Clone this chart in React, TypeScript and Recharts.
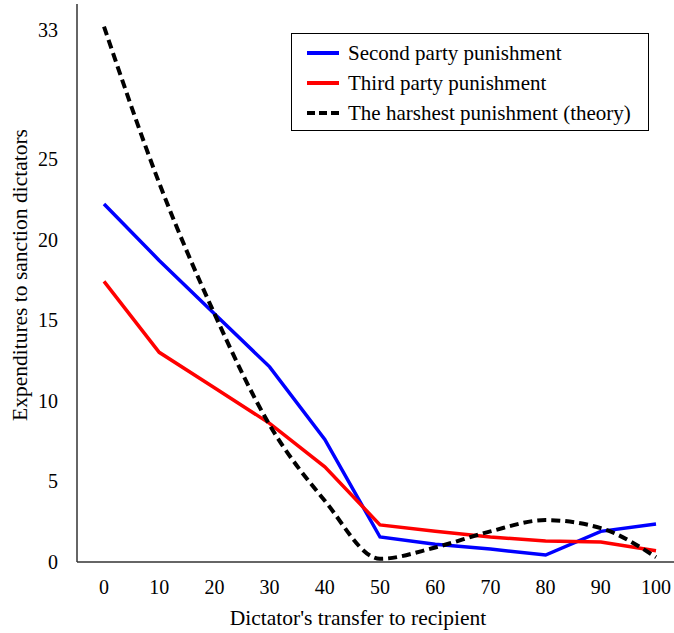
import { LineChart, Line, XAxis, YAxis } from "recharts";

const transfers = ["0", "10", "20", "30", "40", "50", "60", "70", "80", "90", "100"];
const secondParty = [22.2, 18.7, 15.4, 12.1, 7.6, 1.55, 1.1, 0.8, 0.43, 1.9, 2.35];
const thirdParty = [17.4, 13.0, 10.8, 8.6, 5.9, 2.3, 1.9, 1.55, 1.3, 1.24, 0.7];
const harshest = [33.2, 23.5, 15.4, 8.5, 3.8, 0.2, 0.9, 1.9, 2.6, 2.1, 0.3];
const yTicks = [0, 5, 10, 15, 20, 25, 33];

const data = transfers.map((t, i) => ({
  transfer: t,
  second: secondParty[i],
  third: thirdParty[i],
  theory: harshest[i],
}));

const font = "'Liberation Serif', 'Times New Roman', serif";

const legendItems = [
  { label: "Second party punishment", color: "#0000ff", dash: false },
  { label: "Third party punishment", color: "#ff0000", dash: false },
  { label: "The harshest punishment (theory)", color: "#000000", dash: true },
];

function LegendBox() {
  return (
    <div
      style={{
        position: "absolute",
        left: 291,
        top: 33,
        width: 358,
        height: 98,
        boxSizing: "border-box",
        border: "1px solid #000",
        background: "#fff",
        padding: "4px 0 0 15px",
        fontFamily: font,
        fontSize: 21,
        color: "#000",
        whiteSpace: "nowrap",
      }}
    >
      {legendItems.map((it) => (
        <div key={it.label} style={{ display: "flex", alignItems: "center", height: 30 }}>
          <svg width={32} height={6} style={{ marginRight: 9 }}>
            <line
              x1={0}
              y1={3}
              x2={32}
              y2={3}
              stroke={it.color}
              strokeWidth={4}
              strokeDasharray={it.dash ? "8 4" : undefined}
            />
          </svg>
          <span>{it.label}</span>
        </div>
      ))}
    </div>
  );
}

export default function App() {
  return (
    <div style={{ position: "absolute", left: 0, top: 0, width: 674, height: 633, overflow: "hidden", background: "#fff" }}>
      <LineChart width={684} height={633} data={data} margin={{ top: 4, right: 0, bottom: 0, left: 0 }}>
        <XAxis
          dataKey="transfer"
          height={71}
          padding={{ left: 27, right: 28 }}
          tickLine={false}
          tickSize={0}
          tickMargin={18}
          axisLine={{ stroke: "#333", strokeWidth: 1.5 }}
          tick={{ fill: "#000", fontSize: 20, fontFamily: font }}
          interval={0}
          label={{
            content: () => (
              <text x={358} y={625} textAnchor="middle" fill="#000" fontSize={21.5} fontFamily={font}>
                Dictator's transfer to recipient
              </text>
            ),
          }}
        />
        <YAxis
          width={77}
          domain={[0, 34.6]}
          ticks={yTicks}
          tickLine={false}
          tickSize={0}
          tickMargin={19}
          axisLine={{ stroke: "#333", strokeWidth: 1.5 }}
          tick={{ fill: "#000", fontSize: 20, fontFamily: font }}
          label={{
            content: () => (
              <text
                x={27}
                y={275}
                transform="rotate(-90 27 275)"
                textAnchor="middle"
                fill="#000"
                fontSize={21.5}
                fontFamily={font}
              >
                Expenditures to sanction dictators
              </text>
            ),
          }}
        />
        <Line
          dataKey="second"
          name="Second party punishment"
          type="linear"
          stroke="#0000ff"
          strokeWidth={3.5}
          dot={false}
          isAnimationActive={false}
        />
        <Line
          dataKey="third"
          name="Third party punishment"
          type="linear"
          stroke="#ff0000"
          strokeWidth={3.5}
          dot={false}
          isAnimationActive={false}
        />
        <Line
          dataKey="theory"
          name="The harshest punishment (theory)"
          type="monotone"
          stroke="#000"
          strokeWidth={4}
          strokeDasharray="9 5"
          dot={false}
          isAnimationActive={false}
        />
      </LineChart>
      <LegendBox />
    </div>
  );
}
